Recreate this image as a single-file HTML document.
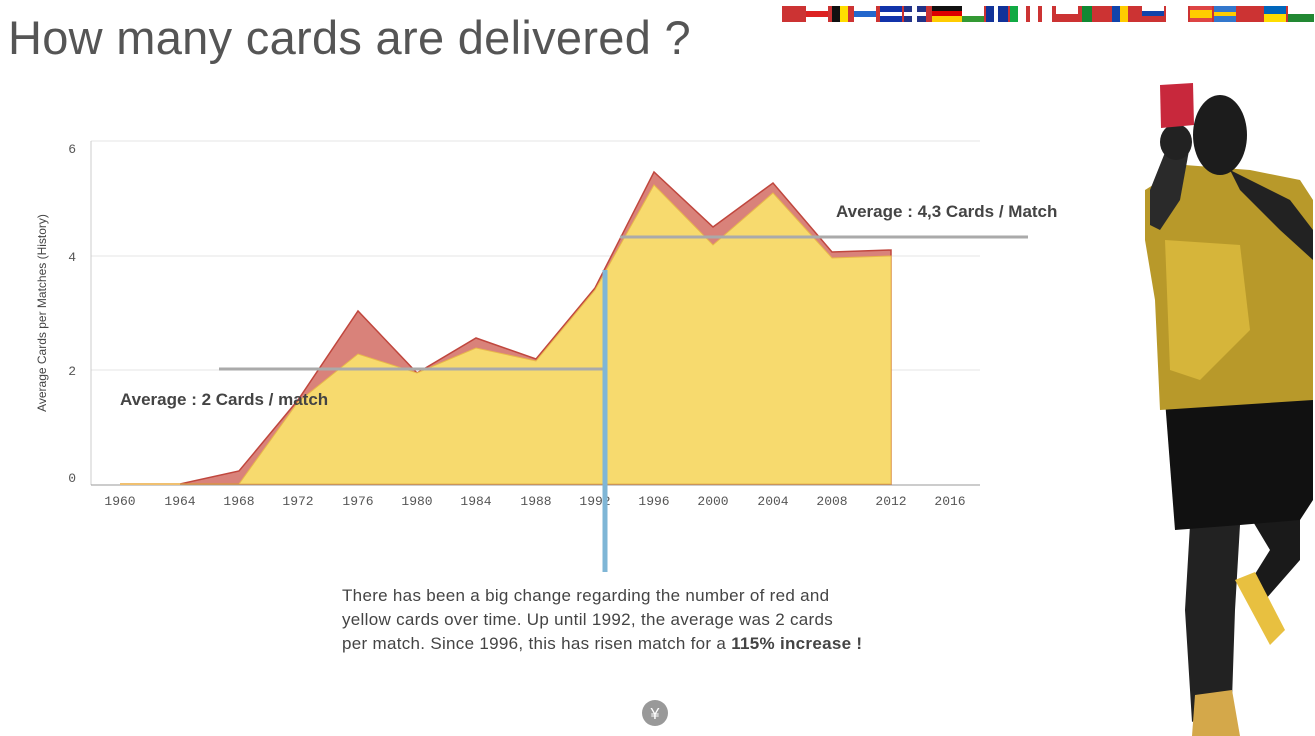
<!DOCTYPE html>
<html><head><meta charset="utf-8"><style>
body{margin:0;width:1315px;height:736px;background:#fff;overflow:hidden;font-family:"Liberation Sans",sans-serif;position:relative}
.t{position:absolute;left:8px;top:10px;font-size:47px;color:#555;letter-spacing:0.3px}
.p{position:absolute;left:342px;top:584px;font-size:17px;line-height:24px;color:#444;width:600px;white-space:nowrap;letter-spacing:0.3px}
</style></head><body>
<div class="t">How many cards are delivered ?</div>
<svg width="1315" height="736" style="position:absolute;left:0;top:0">
<g transform="translate(782,6)">
<rect x="0" y="0" width="532" height="16" fill="#c33"/>
<rect x="24" y="0" width="22" height="16" fill="#fff"/><rect x="24" y="5" width="22" height="6" fill="#d22"/>
<rect x="50" y="0" width="8" height="16" fill="#111"/><rect x="58" y="0" width="8" height="16" fill="#fd0"/>
<rect x="72" y="0" width="22" height="16" fill="#fff"/><rect x="72" y="5" width="22" height="6" fill="#26c"/>
<rect x="98" y="0" width="22" height="16" fill="#13a"/><rect x="98" y="6" width="22" height="4" fill="#fff"/>
<rect x="122" y="0" width="22" height="16" fill="#238"/><rect x="130" y="0" width="5" height="16" fill="#fff"/><rect x="122" y="6" width="22" height="4" fill="#fff"/>
<rect x="150" y="0" width="30" height="5" fill="#111"/><rect x="150" y="5" width="30" height="5" fill="#d00"/><rect x="150" y="10" width="30" height="6" fill="#fc0"/>
<rect x="180" y="0" width="22" height="16" fill="#fff"/><rect x="180" y="10" width="22" height="6" fill="#393"/>
<rect x="204" y="0" width="22" height="16" fill="#139"/><rect x="212" y="0" width="4" height="16" fill="#fff"/>
<rect x="228" y="0" width="8" height="16" fill="#1a4"/><rect x="236" y="0" width="8" height="16" fill="#fff"/>
<rect x="248" y="0" width="22" height="16" fill="#fff"/><rect x="256" y="0" width="4" height="16" fill="#c33"/>
<rect x="274" y="0" width="22" height="8" fill="#fff"/>
<rect x="300" y="0" width="10" height="16" fill="#183"/>
<rect x="330" y="0" width="8" height="16" fill="#14a"/><rect x="338" y="0" width="8" height="16" fill="#fc0"/>
<rect x="360" y="0" width="22" height="5" fill="#fff"/><rect x="360" y="5" width="22" height="5" fill="#14a"/>
<rect x="384" y="0" width="22" height="16" fill="#fff"/>
<rect x="408" y="0" width="22" height="16" fill="#d44"/><rect x="408" y="4" width="22" height="8" fill="#fc0"/>
<rect x="432" y="0" width="22" height="16" fill="#37c"/><rect x="432" y="6" width="22" height="4" fill="#fc0"/>
<rect x="482" y="0" width="22" height="16" fill="#06b"/><rect x="482" y="8" width="22" height="8" fill="#fd0"/>
<rect x="506" y="0" width="26" height="8" fill="#fff"/><rect x="506" y="8" width="26" height="8" fill="#283"/>
</g>
<g stroke="#e6e6e6" stroke-width="1">
<line x1="91" y1="141" x2="980" y2="141"/><line x1="91" y1="256" x2="980" y2="256"/><line x1="91" y1="370" x2="980" y2="370"/>
</g>
<line x1="91" y1="141" x2="91" y2="485" stroke="#ccc"/>
<line x1="91" y1="485" x2="980" y2="485" stroke="#999"/>
<g font-family="Liberation Mono,monospace" font-size="13" fill="#555">
<text x="76" y="153" text-anchor="end">6</text><text x="76" y="261" text-anchor="end">4</text>
<text x="76" y="375" text-anchor="end">2</text><text x="76" y="482" text-anchor="end">0</text>
<g text-anchor="middle">
<text x="120" y="505">1960</text><text x="180" y="505">1964</text><text x="239" y="505">1968</text><text x="298" y="505">1972</text>
<text x="358" y="505">1976</text><text x="417" y="505">1980</text><text x="476" y="505">1984</text><text x="536" y="505">1988</text>
<text x="595" y="505">1992</text><text x="654" y="505">1996</text><text x="713" y="505">2000</text><text x="773" y="505">2004</text>
<text x="832" y="505">2008</text><text x="891" y="505">2012</text><text x="950" y="505">2016</text></g></g>
<text transform="translate(46,313) rotate(-90)" text-anchor="middle" font-size="12" fill="#444">Average Cards per Matches (History)</text>
<polygon fill="#d9827a" stroke="#c0473e" stroke-width="1.5" points="120,484 180,484 239,471 298,400 358,311 417,373 476,338 536,359 595,288 654,172 713,227 773,183 832,252 891,250 891,484"/>
<polygon fill="#f7da6e" stroke="#e8b84a" stroke-width="1" points="120,484 180,484 239,484 298,402 358,354 417,373 476,348 536,361 595,290 654,185 713,245 773,193 832,258 891,256 891,484"/>
<line x1="120" y1="484" x2="180" y2="484" stroke="#f0c070" stroke-width="2"/>
<line x1="219" y1="369" x2="604" y2="369" stroke="#aaa" stroke-width="3"/>
<line x1="620" y1="237" x2="1028" y2="237" stroke="#aaa" stroke-width="3"/>
<line x1="605" y1="270" x2="605" y2="572" stroke="#7fb6d6" stroke-width="5"/>
<text x="120" y="405" font-size="17" font-weight="bold" fill="#444">Average : 2 Cards / match</text>
<text x="836" y="217" font-size="17" font-weight="bold" fill="#444">Average : 4,3 Cards / Match</text>
<circle cx="655" cy="713" r="13" fill="#999"/><text x="655" y="719" font-size="16" fill="#fff" text-anchor="middle">¥</text>
<g>
<polygon fill="#222" points="1192,722 1185,610 1190,525 1240,525 1235,610 1232,700"/>
<polygon fill="#1a1a1a" points="1240,500 1300,500 1300,560 1265,600 1245,590 1270,550"/>
<polygon fill="#e8c040" points="1235,580 1255,572 1285,630 1270,645"/>
<polygon fill="#d4a84a" points="1195,695 1232,690 1240,736 1192,736"/>
<polygon fill="#111" points="1165,400 1313,395 1313,500 1300,520 1240,525 1175,530"/>
<polygon fill="#b8992a" points="1145,190 1185,165 1250,170 1300,180 1313,200 1313,400 1160,410 1155,300 1145,240"/>
<polygon fill="#d6b53a" points="1165,240 1240,245 1250,330 1200,380 1170,370"/>
<polygon fill="#2a2a2a" points="1150,190 1170,140 1190,145 1180,200 1160,230 1150,225"/>
<ellipse cx="1220" cy="135" rx="27" ry="40" fill="#1c1c1c"/>
<ellipse cx="1176" cy="142" rx="16" ry="18" fill="#222"/>
<polygon fill="#c8283c" points="1160,85 1193,83 1194,125 1161,128"/>
<polygon fill="#222" points="1230,170 1290,200 1313,230 1313,260 1280,230 1240,190"/>
</g>
</svg>
<div class="p">There has been a big change regarding the number of red and<br>yellow cards over time. Up until 1992, the average was 2 cards<br>per match. Since 1996, this has risen match for a <b>115% increase !</b></div>
</body></html>
